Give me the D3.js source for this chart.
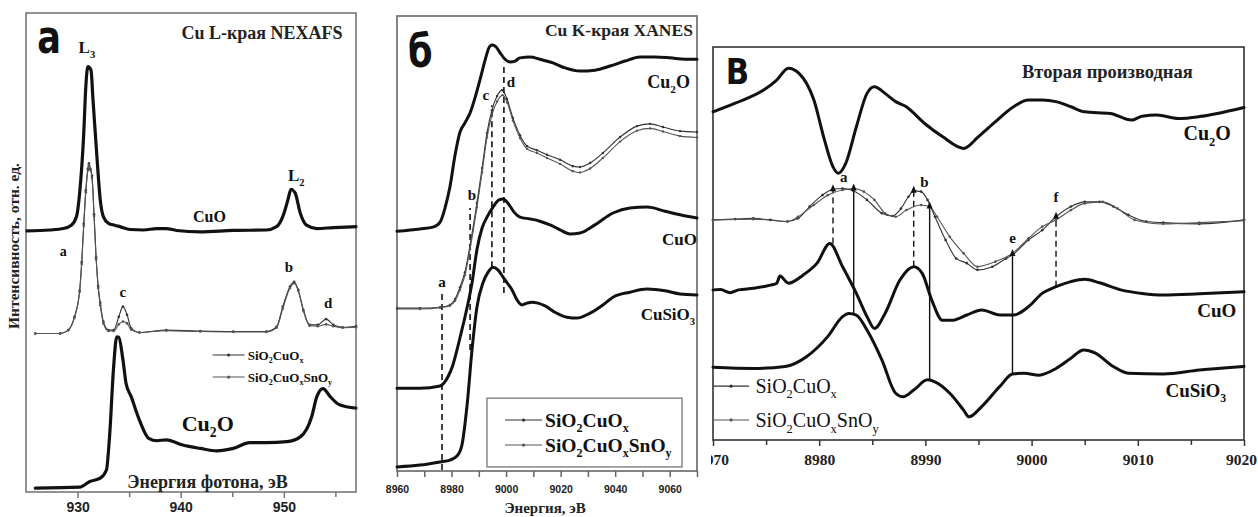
<!DOCTYPE html>
<html><head><meta charset="utf-8">
<script src="https://cdn.jsdelivr.net/npm/d3@7"></script>
<style>body{margin:0;background:#fff}svg{display:block}</style>
</head><body><svg id="c" width="1258" height="517"></svg>
<script>
// ---------------- DATA (energy, intensity a.u.) ----------------
// Panel а : Cu L-edge NEXAFS
const aCuO = [[925.1,54.5],[927.3,54.7],[928.6,55.0],[929.4,55.7],[929.9,57.5],[930.2,62.4],[930.6,74.9],[930.8,84.6],[931.0,88.8],[931.3,88.1],[931.5,81.8],[931.9,69.3],[932.2,61.0],[932.5,57.5],[933.0,56.1],[933.6,55.7],[934.1,55.4],[935.1,54.8],[936.4,54.7],[937.7,55.0],[938.6,55.0],[939.6,54.6],[941.9,54.3],[945.1,54.6],[948.3,54.7],[949.3,55.4],[949.9,57.5],[950.4,61.0],[950.7,63.2],[951.1,62.4],[951.6,58.2],[952.2,55.7],[953.2,55.0],[954.8,55.2],[957.0,55.4]];
const aSiCuOx = [[925.9,33.1],[928.3,33.1],[929.1,33.8],[929.7,36.6],[930.2,42.0],[930.4,48.0],[930.6,56.0],[930.8,63.0],[931.0,67.5],[931.1,68.6],[931.25,67.4],[931.4,66.0],[931.6,58.0],[931.8,49.0],[932.0,43.0],[932.2,39.5],[932.5,35.6],[933.0,33.8],[933.5,33.8],[934.0,36.6],[934.4,38.7],[934.8,37.0],[935.2,34.2],[936.0,33.3],[938.6,33.8],[941.9,33.6],[945.1,33.5],[948.3,33.5],[949.3,34.5],[949.9,38.7],[950.6,42.9],[951.0,43.9],[951.4,42.2],[951.9,38.0],[952.5,34.9],[953.3,34.9],[954.1,36.1],[954.8,34.9],[955.7,34.4],[957.0,34.6]];
const aSiCuOxSnOy = [[925.9,33.1],[928.3,33.1],[929.1,33.8],[929.7,36.4],[930.2,41.8],[930.4,47.6],[930.6,55.6],[930.8,62.6],[931.0,67.2],[931.1,68.3],[931.25,67.2],[931.4,65.6],[931.6,57.6],[931.8,48.6],[932.0,42.6],[932.2,39.0],[932.5,35.2],[933.0,33.6],[933.5,33.6],[934.0,35.0],[934.4,35.6],[934.8,35.2],[935.2,33.9],[936.0,33.3],[938.6,33.7],[941.9,33.5],[945.1,33.4],[948.3,33.4],[949.3,34.3],[949.9,38.3],[950.6,42.6],[951.0,43.6],[951.4,42.0],[951.9,37.8],[952.5,34.7],[953.3,34.6],[954.1,35.0],[954.8,34.6],[955.7,34.3],[957.0,34.4]];
const aCu2O = [[925.9,0.8],[930.2,1.0],[931.2,2.2],[932.2,2.9],[932.8,4.6],[933.1,11.5],[933.5,26.2],[933.8,32.4],[934.0,32.3],[934.4,27.6],[934.7,22.7],[935.2,19.9],[936.0,15.0],[936.9,11.2],[937.7,10.7],[938.6,10.9],[940.2,9.8],[941.9,9.1],[943.5,8.6],[945.1,9.1],[946.7,10.3],[948.3,10.3],[950.3,10.5],[951.6,11.5],[952.7,15.7],[953.2,19.9],[953.8,21.6],[954.5,19.9],[955.4,18.2],[957.0,17.5]];
const aTicks = [930, 940, 950];
const aMinorTicks = [935, 945, 955];

// Panel б : Cu K-edge XANES
const bCu2O = [[8960.0,52.7],[8968.4,53.2],[8973.2,53.6],[8975.8,54.7],[8977.6,57.8],[8979.4,62.4],[8981.3,69.5],[8983.1,74.5],[8984.9,76.5],[8986.8,78.7],[8988.6,82.0],[8990.4,85.9],[8992.3,90.3],[8993.7,93.0],[8994.8,93.6],[8996.3,93.2],[8997.8,91.9],[8999.6,90.5],[9001.4,89.9],[9003.3,90.1],[9005.1,90.8],[9008.8,91.0],[9012.4,90.5],[9017.2,89.7],[9021.6,88.6],[9027.1,87.9],[9032.6,88.1],[9038.1,89.0],[9043.6,90.1],[9049.1,91.0],[9054.6,91.0],[9060.1,90.8],[9065.6,90.5],[9070.0,90.5]];
const bSiCuOx = [[8960.0,35.8],[8968.4,35.8],[8975.8,36.0],[8979.4,36.5],[8981.3,37.8],[8983.1,40.4],[8984.9,43.7],[8986.8,49.7],[8989.3,58.9],[8991.2,66.6],[8993.0,74.3],[8994.8,79.3],[8996.7,82.4],[8998.5,83.7],[9000.3,81.8],[9002.5,77.6],[9005.1,73.8],[9007.7,71.4],[9011.3,70.5],[9015.0,69.5],[9019.8,68.4],[9024.5,67.0],[9027.1,66.8],[9030.8,67.7],[9035.5,69.9],[9041.8,73.4],[9048.0,75.8],[9052.8,76.3],[9057.5,75.6],[9063.8,74.7],[9070.0,74.5]];
const bSiCuOxSnOy = [[8960.0,35.6],[8968.4,35.6],[8975.8,35.9],[8979.4,36.3],[8981.3,37.4],[8983.1,39.8],[8984.9,43.0],[8986.8,48.8],[8989.3,57.9],[8991.2,65.6],[8993.0,73.3],[8994.8,78.2],[8996.7,81.2],[8998.7,82.6],[9000.4,81.0],[9002.5,77.0],[9005.1,73.2],[9007.7,70.8],[9011.3,69.9],[9015.0,68.8],[9019.8,67.5],[9024.5,65.9],[9027.1,65.6],[9030.8,66.5],[9035.5,68.8],[9041.8,72.4],[9048.0,74.8],[9052.8,75.3],[9057.5,74.6],[9063.8,73.6],[9070.0,73.3]];
const bCuO = [[8960.0,18.2],[8968.4,18.2],[8975.8,18.7],[8978.7,20.7],[8980.5,23.3],[8982.0,26.6],[8983.5,30.3],[8984.9,33.8],[8987.5,41.3],[8989.3,48.6],[8991.2,53.4],[8993.0,55.8],[8995.2,58.0],[8997.4,59.6],[8998.9,59.8],[9001.1,58.5],[9002.9,56.9],[9005.1,55.8],[9008.8,55.4],[9012.4,54.9],[9016.1,54.1],[9019.8,53.0],[9023.4,52.1],[9027.1,52.3],[9032.6,54.1],[9039.2,56.7],[9045.4,57.8],[9051.7,58.0],[9058.3,57.1],[9063.8,56.3],[9070.0,55.6]];
const bCuSiO3 = [[8960.0,0.9],[8968.4,1.3],[8975.8,2.0],[8979.4,2.4],[8982.0,3.3],[8983.8,5.7],[8985.7,14.5],[8987.5,26.6],[8989.3,36.0],[8991.5,41.3],[8993.4,43.7],[8995.2,44.8],[8997.0,44.2],[8998.9,42.6],[9000.7,41.1],[9002.2,39.8],[9004.0,37.6],[9005.8,36.5],[9007.7,36.9],[9009.5,37.1],[9011.7,36.9],[9014.3,36.3],[9017.9,34.9],[9022.3,33.8],[9026.0,33.6],[9030.8,34.7],[9035.5,36.5],[9039.2,38.2],[9045.4,39.3],[9051.7,40.0],[9058.3,39.6],[9063.8,38.9],[9070.0,38.7]];
const bMarkNames = ['a','b','c','d'];
const bMarkE = [8976.5, 8986.8, 8994.8, 8999.2];
const bMarkLo = [0.2, 26.6, 44.8, 39.1];
const bMarkHi = [39.3, 57.8, 80.4, 89.7];
const bTicks = [8960, 8980, 9000, 9020, 9040, 9060];
const bMinorTicks = [8970, 8990, 9010, 9030, 9050, 9070];

// Panel в : second derivative
const vCu2O = [[8970.0,83.5],[8972.1,85.7],[8974.8,89.1],[8976.0,91.6],[8977.1,94.6],[8978.1,93.3],[8979.5,86.5],[8980.5,76.3],[8981.3,69.5],[8981.8,67.9],[8982.5,70.4],[8983.5,79.7],[8984.5,88.2],[8985.2,89.9],[8986.2,88.2],[8987.2,86.1],[8988.2,84.8],[8989.9,80.6],[8991.6,77.2],[8993.6,74.2],[8995.0,77.2],[8996.6,81.0],[8998.3,84.8],[8999.7,86.5],[9001.0,86.5],[9002.3,86.1],[9003.7,84.8],[9005.0,83.5],[9007.4,83.1],[9009.4,81.4],[9010.4,82.4],[9011.8,82.7],[9013.8,81.8],[9015.8,82.3],[9017.5,83.1],[9020.0,84.6]];
const vSiCuOx = [[8970.0,56.0],[8972.1,56.2],[8973.8,56.4],[8975.4,56.0],[8977.0,55.6],[8978.0,56.4],[8979.1,59.4],[8980.3,62.3],[8981.3,63.8],[8982.2,64.0],[8983.2,63.4],[8984.5,61.1],[8985.9,57.7],[8986.9,57.0],[8987.7,58.9],[8988.4,61.9],[8988.9,63.4],[8989.6,63.2],[8990.2,61.1],[8990.9,56.8],[8991.9,50.9],[8992.9,46.2],[8993.9,45.0],[8994.9,43.3],[8996.3,44.1],[8997.6,46.2],[8998.2,47.1],[8999.7,50.9],[9001.0,53.4],[9002.3,56.8],[9003.7,59.4],[9005.0,60.6],[9006.4,60.6],[9007.7,59.4],[9009.1,57.3],[9010.8,55.6],[9012.4,55.3],[9015.8,55.0],[9020.0,56.0]];
const vSiCuOxSnOy = [[8970.0,56.0],[8973.8,56.2],[8977.0,55.6],[8978.0,56.8],[8979.5,59.8],[8980.8,62.3],[8982.2,63.6],[8983.2,64.0],[8984.2,63.2],[8985.2,61.1],[8986.2,57.7],[8987.2,56.8],[8988.2,58.5],[8989.6,59.8],[8990.4,59.4],[8991.1,56.8],[8992.3,51.7],[8993.6,47.5],[8994.9,44.1],[8996.6,45.4],[8998.2,47.5],[8999.7,51.3],[9001.0,54.3],[9002.3,56.0],[9003.7,58.5],[9005.0,60.2],[9006.7,60.6],[9008.1,58.9],[9009.7,56.0],[9012.4,55.0],[9015.8,55.3],[9020.0,55.8]];
const vCuO = [[8970.0,38.2],[8970.7,38.3],[8971.6,37.5],[8972.4,38.2],[8973.8,38.6],[8975.4,39.4],[8976.0,39.9],[8976.3,41.7],[8977.1,39.9],[8978.5,42.0],[8979.8,45.0],[8981.0,50.0],[8982.2,44.1],[8983.5,37.3],[8984.5,31.4],[8985.2,28.4],[8986.2,32.2],[8987.6,40.7],[8988.9,44.1],[8989.7,42.4],[8990.6,35.6],[8991.6,30.5],[8992.6,30.5],[8993.9,31.8],[8995.3,33.1],[8997.0,31.8],[8998.3,31.8],[8999.7,33.9],[9001.0,37.3],[9002.3,39.0],[9003.7,40.3],[9005.0,40.9],[9006.4,40.0],[9008.4,38.2],[9010.4,37.3],[9012.4,36.9],[9015.8,37.2],[9020.0,37.7]];
const vCuSiO3 = [[8970.0,18.5],[8973.8,18.2],[8976.8,18.7],[8978.8,21.2],[8980.8,26.3],[8982.2,31.4],[8982.8,32.2],[8983.5,31.8],[8984.5,28.0],[8985.9,20.4],[8987.2,11.9],[8987.9,11.0],[8988.9,12.7],[8990.2,15.3],[8990.9,14.8],[8992.3,11.9],[8993.6,7.6],[8994.1,5.9],[8995.3,8.5],[8997.0,13.6],[8998.2,16.8],[8999.3,17.0],[9000.7,16.5],[9002.3,18.2],[9003.7,20.8],[9004.9,22.9],[9006.0,22.1],[9007.7,18.7],[9009.1,17.0],[9012.4,16.8],[9015.8,17.8],[9020.0,18.7]];
const vMarkE = [8981.3, 8983.25, 8988.9, 8990.4, 8998.2, 9002.3];
const vMarkLo = [50.0, 32.0, 44.1, 15.3, 16.8, 39.0];
const vMarkHi = [63.8, 64.0, 63.4, 59.4, 47.3, 56.8];
const vMarkDashed = [true, false, true, false, false, true];
const vTicks = [8970, 8980, 8990, 9000, 9010, 9020];
const vMinorTicks = [8975, 8985, 8995, 9005, 9015];

// ---------------- DRAWING ----------------
const svg = d3.select('#c');
const SERIF = '"Liberation Serif","Times New Roman",serif';
const SANS = '"Liberation Sans",Arial,sans-serif';
const COND = '"DejaVu Sans Condensed","Liberation Sans Narrow","DejaVu Sans",sans-serif';
const INK = '#111';

function rich(t, str, size){
  const parts = str.split(/(_.)/).filter(p => p);
  let down = false;
  const off = size * 0.28;
  parts.forEach(p => {
    if (p[0] === '_' && p.length === 2) {
      t.append('tspan').attr('font-size', size * 0.62).attr('dy', down ? 0 : off).text(p[1]);
      down = true;
    } else {
      t.append('tspan').attr('dy', down ? -off : 0).text(p);
      down = false;
    }
  });
  return t;
}
function label(g, x, y, str, o){
  const t = g.append('text').attr('x', x).attr('y', y)
    .attr('font-family', o.family || SERIF).attr('font-weight', o.weight || 'bold')
    .attr('font-size', o.size).attr('text-anchor', o.anchor || 'start').attr('fill', o.fill || INK);
  if (o.sx) t.attr('transform', `translate(${x},${y}) scale(${o.sx},1) translate(${-x},${-y})`);
  rich(t, str, o.size);
  return t;
}
function makePanel(c){
  const x = d3.scaleLinear().domain(c.xDomain).range([c.left, c.right]);
  const y = d3.scaleLinear().domain([0, 100]).range([c.bottom, c.top]);
  const g = svg.append('g');
  const axG = g.append('g');
  if (c.clip) {
    svg.append('clipPath').attr('id', c.clip).append('rect').attr('x', c.left - 2).attr('y', 0).attr('width', 1258).attr('height', 517);
    axG.attr('clip-path', `url(#${c.clip})`);
  }
  const mn = axG.append('g').attr('transform', `translate(0,${c.bottom})`)
    .call(d3.axisBottom(x).tickValues(c.minor).tickSize(c.minorLen).tickFormat(''));
  const mj = axG.append('g').attr('transform', `translate(0,${c.bottom})`)
    .call(d3.axisBottom(x).tickValues(c.major).tickSize(c.majorLen).tickPadding(c.pad).tickFormat(d3.format('d')));
  [mn, mj].forEach(a => { a.select('.domain').remove(); a.selectAll('line').attr('stroke', c.frame).attr('stroke-width', 1.5); });
  mj.selectAll('text').attr('font-family', c.tickFont).attr('font-weight', 'bold').attr('font-size', c.tickSize).attr('fill', '#222');
  if (c.lastShift) mj.selectAll('text').filter(d => d === c.major[c.major.length - 1]).attr('dx', c.lastShift);
  g.append('rect').attr('x', c.left).attr('y', c.top).attr('width', c.right - c.left).attr('height', c.bottom - c.top)
    .attr('fill', 'none').attr('stroke', c.frame).attr('stroke-width', 1.6);
  const plot = g.append('g');
  return {x, y, g, plot};
}
function thick(p, data, w){
  const line = d3.line().x(d => p.x(d[0])).y(d => p.y(d[1])).curve(d3.curveMonotoneX);
  p.plot.append('path').datum(data).attr('d', line).attr('fill', 'none').attr('stroke', INK)
    .attr('stroke-width', w || 3).attr('stroke-linejoin', 'round').attr('stroke-linecap', 'round');
}
function thin(p, data, col, r){
  const line = d3.line().x(d => p.x(d[0])).y(d => p.y(d[1])).curve(d3.curveMonotoneX);
  p.plot.append('path').datum(data).attr('d', line).attr('fill', 'none').attr('stroke', col).attr('stroke-width', 1.1);
  p.plot.append('g').selectAll('circle').data(data).join('circle')
    .attr('cx', d => p.x(d[0])).attr('cy', d => p.y(d[1])).attr('r', r || 1.4).attr('fill', col);
}
function legendLine(p, e0, e1, v, col){
  p.plot.append('line').attr('x1', p.x(e0)).attr('x2', p.x(e1)).attr('y1', p.y(v)).attr('y2', p.y(v))
    .attr('stroke', col).attr('stroke-width', 1.1);
  p.plot.append('circle').attr('cx', (p.x(e0) + p.x(e1)) / 2).attr('cy', p.y(v)).attr('r', 1.6).attr('fill', col);
}

// ===== Panel а =====
const A = makePanel({xDomain: [925, 957], left: 26, right: 356, top: 13, bottom: 492,
  major: aTicks, minor: aMinorTicks, majorLen: 6, minorLen: 5, pad: 4, frame: '#777',
  tickFont: SANS, tickSize: 14});
thick(A, aCuO, 3.2);
thick(A, aCu2O, 3.2);
thin(A, aSiCuOx, '#333', 1.3);
thin(A, aSiCuOxSnOy, '#555', 1.3);
label(A.g, A.x(926.1), A.y(91.6), 'а', {family: COND, size: 46, sx: 0.85});
label(A.g, A.x(930.1), A.y(91.6), 'L_3', {size: 17});
label(A.g, A.x(955.7), A.y(94.6), 'Cu L-края NEXAFS', {size: 18, anchor: 'end', fill: '#222'});
label(A.g, A.x(950.4), A.y(64.9), 'L_2', {size: 17});
label(A.g, A.x(941.2), A.y(56.4), 'CuO', {size: 16});
label(A.g, A.x(928.6), A.y(49.3), 'a', {size: 14, anchor: 'middle'});
label(A.g, A.x(934.4), A.y(40.7), 'c', {size: 15, anchor: 'middle'});
label(A.g, A.x(950.5), A.y(45.9), 'b', {size: 15, anchor: 'middle'});
label(A.g, A.x(954.3), A.y(38.4), 'd', {size: 15, anchor: 'middle'});
legendLine(A, 943.1, 946.2, 28.6, '#333');
legendLine(A, 943.1, 946.2, 24.0, '#555');
label(A.g, A.x(946.5), A.y(27.6), 'SiO_2CuO_x', {size: 13});
label(A.g, A.x(946.5), A.y(23.0), 'SiO_2CuO_xSnO_y', {size: 13});
label(A.g, A.x(940.1), A.y(12.7), 'Cu_2O', {size: 22});
label(A.g, A.x(942.6), A.y(0.9), 'Энергия фотона, эВ', {size: 18, anchor: 'middle', fill: '#222'});
svg.append('text').attr('transform', 'translate(19,246) rotate(-90)').attr('text-anchor', 'middle')
  .attr('font-family', SERIF).attr('font-weight', 'bold').attr('font-size', 15.5).attr('fill', '#222')
  .text('Интенсивность, отн. ед.');

// ===== Panel б =====
const B = makePanel({xDomain: [8960, 9070], left: 397, right: 697, top: 16, bottom: 471,
  major: bTicks, minor: bMinorTicks, majorLen: 6, minorLen: 6, pad: 9, frame: '#666',
  tickFont: SANS, tickSize: 10.5});
bMarkE.forEach((e, i) => {
  B.plot.append('line').attr('x1', B.x(e)).attr('x2', B.x(e)).attr('y1', B.y(bMarkLo[i])).attr('y2', B.y(bMarkHi[i]))
    .attr('stroke', INK).attr('stroke-width', 1.6).attr('stroke-dasharray', '6,4');
});
thick(B, bCu2O, 3);
thick(B, bCuO, 3);
thick(B, bCuSiO3, 3);
thin(B, bSiCuOx, '#333', 1.2);
thin(B, bSiCuOxSnOy, '#555', 1.2);
label(B.g, B.x(8964.0), B.y(88.8), 'б', {family: COND, size: 46, sx: 0.85});
label(B.g, B.x(9068.5), B.y(95.6), 'Cu K-края XANES', {size: 17.5, anchor: 'end', fill: '#222'});
label(B.g, B.x(9067.4), B.y(84.2), 'Cu_2O', {size: 18, anchor: 'end'});
label(B.g, B.x(9070), B.y(49.7), 'CuO', {size: 17, anchor: 'end'});
label(B.g, B.x(9069.3), B.y(33.2), 'CuSiO_3', {size: 17, anchor: 'end'});
label(B.g, B.x(8976.5), B.y(40.4), 'a', {size: 15, anchor: 'middle'});
label(B.g, B.x(8987.5), B.y(59.6), 'b', {size: 15, anchor: 'middle'});
label(B.g, B.x(8992.6), B.y(81.5), 'c', {size: 15, anchor: 'middle'});
label(B.g, B.x(9001.8), B.y(84.4), 'd', {size: 15, anchor: 'middle'});
B.plot.append('rect').attr('x', B.x(8993.0)).attr('y', B.y(16.0)).attr('width', B.x(9064.5) - B.x(8993.0))
  .attr('height', B.y(0.9) - B.y(16.0)).attr('fill', 'none').attr('stroke', '#888').attr('stroke-width', 1.5);
legendLine(B, 8999.6, 9013.2, 11.2, '#333');
legendLine(B, 8999.6, 9013.2, 5.7, '#555');
label(B.g, B.x(9014.3), B.y(9.7), 'SiO_2CuO_x', {size: 19.5});
label(B.g, B.x(9014.3), B.y(4.2), 'SiO_2CuO_xSnO_y', {size: 19.5});
label(svg, B.x(9014.3), 513, 'Энергия, эВ', {size: 15, anchor: 'middle', fill: '#222'});

// ===== Panel в =====
const V = makePanel({xDomain: [8970, 9020], left: 713, right: 1244, top: 47, bottom: 440,
  major: vTicks, minor: vMinorTicks, majorLen: 6, minorLen: 5, pad: 8, frame: '#333',
  tickFont: SERIF, tickSize: 15.5, clip: 'vclip', lastShift: -3});
vMarkE.forEach((e, i) => {
  V.plot.append('line').attr('x1', V.x(e)).attr('x2', V.x(e)).attr('y1', V.y(vMarkLo[i])).attr('y2', V.y(vMarkHi[i]))
    .attr('stroke', INK).attr('stroke-width', 1.4).attr('stroke-dasharray', vMarkDashed[i] ? '6,4' : null);
});
thick(V, vCu2O, 3);
thick(V, vCuO, 3);
thick(V, vCuSiO3, 3);
thin(V, vSiCuOx, '#333', 1.3);
thin(V, vSiCuOxSnOy, '#555', 1.3);
vMarkE.forEach((e, i) => {
  const cx = V.x(e), cy = V.y(vMarkHi[i]);
  V.plot.append('path').attr('d', `M${cx},${cy - 5}L${cx - 3},${cy + 2}L${cx + 3},${cy + 2}Z`).attr('fill', INK);
});
label(V.g, V.x(8971.2), V.y(90.6), 'В', {family: COND, size: 36, sx: 0.95});
label(V.g, V.x(8999.1), V.y(92.1), 'Вторая производная', {size: 18.5, fill: '#222'});
label(V.g, V.x(9014.3), V.y(76.3), 'Cu_2O', {size: 20});
label(V.g, V.x(9015.6), V.y(31.3), 'CuO', {size: 19});
label(V.g, V.x(9012.6), V.y(10.9), 'CuSiO_3', {size: 19});
label(V.g, V.x(8982.3), V.y(65.6), 'a', {size: 15, anchor: 'middle'});
label(V.g, V.x(8989.9), V.y(64.4), 'b', {size: 15, anchor: 'middle'});
label(V.g, V.x(8998.2), V.y(50.1), 'e', {size: 15, anchor: 'middle'});
label(V.g, V.x(9002.3), V.y(60.6), 'f', {size: 15, anchor: 'middle'});
legendLine(V, 8970, 8973.4, 13.7, '#333');
legendLine(V, 8970, 8973.4, 5.1, '#555');
label(V.g, V.x(8974.0), V.y(12.0), 'SiO_2CuO_x', {size: 20, weight: 'normal'});
label(V.g, V.x(8974.0), V.y(3.3), 'SiO_2CuO_xSnO_y', {size: 20, weight: 'normal'});
</script></body></html>
